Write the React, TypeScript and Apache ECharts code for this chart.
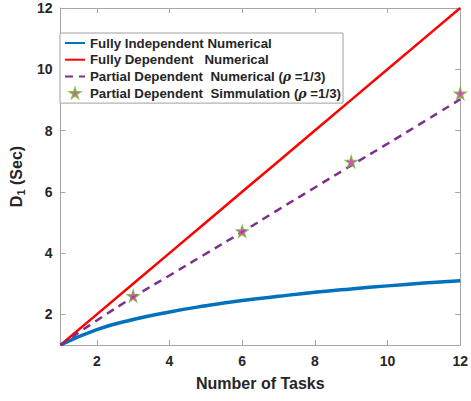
import React, { useEffect, useRef } from "react";
import * as echarts from "echarts";

const tasks = [1, 2, 3, 4, 5, 6, 7, 8, 9, 10, 11, 12];
const fullyIndependent = [1, 1.5, 1.83, 2.08, 2.28, 2.45, 2.59, 2.72, 2.83, 2.93, 3.02, 3.1];
const fullyDependent = [1, 2, 3, 4, 5, 6, 7, 8, 9, 10, 11, 12];
const partialNumerical = [1, 1.8, 2.56, 3.27, 3.98, 4.69, 5.42, 6.14, 6.86, 7.57, 8.29, 9.02];
const simTasks = [3, 6, 9, 12];
const partialSimulation = [2.6, 4.71, 6.98, 9.21];
const tickValues = [2, 4, 6, 8, 10, 12];

const seriesNames = [
  "Fully Independent Numerical",
  "Fully Dependent   Numerical",
  "Partial Dependent  Numerical (ρ =1/3)",
  "Partial Dependent  Simmulation (ρ =1/3)",
];

const star =
  "path://M50,0 L61,35 L98,35 L68,57 L79,91 L50,70 L21,91 L32,57 L2,35 L39,35 Z";

const AXIS_COLOR = "#a6a6a6";
const TEXT_COLOR = "#262626";
const FONT = "'Liberation Sans', Arial, Helvetica, sans-serif";

export default function App() {
  const ref = useRef<HTMLDivElement>(null);
  useEffect(() => {
    if (!ref.current) return;
    const chart = echarts.init(ref.current, undefined, { renderer: "svg" });
    const pair = (xs: number[], ys: number[]) => xs.map((x, i) => [x, ys[i]]);
    const baseAxis = {
      type: "value" as const,
      min: 1,
      max: 12,
      splitLine: { show: false },
      axisLine: { show: true, lineStyle: { color: AXIS_COLOR, width: 1 } },
      axisTick: {
        show: true,
        inside: true,
        length: 5,
        customValues: tickValues,
        lineStyle: { color: AXIS_COLOR },
      },
    };
    const hiddenSymbol = { opacity: 0 };
    chart.setOption({
      animation: false,
      backgroundColor: "#ffffff",
      textStyle: { fontFamily: FONT },
      grid: { left: 57, right: 9, top: 8, bottom: 56, containLabel: false },
      legend: {
        orient: "vertical",
        left: 60,
        top: 33,
        itemWidth: 20,
        itemHeight: 9,
        itemGap: 2.7,
        padding: [3, 2, 3, 4],
        backgroundColor: "#ffffff",
        borderColor: "#a0a0a0",
        borderWidth: 1,
        borderRadius: 0,
        data: [
          { name: seriesNames[0], itemStyle: hiddenSymbol },
          { name: seriesNames[1], itemStyle: hiddenSymbol },
          { name: seriesNames[2], itemStyle: hiddenSymbol },
          { name: seriesNames[3], icon: star },
        ],
        formatter: (name: string) => name.replace("ρ", "{i|ρ}"),
        textStyle: {
          fontFamily: FONT,
          fontSize: 13.3,
          fontWeight: "bold",
          color: TEXT_COLOR,
          lineHeight: 14,
          rich: {
            i: { fontFamily: "'DejaVu Serif', serif", fontStyle: "italic", fontSize: 12.5, color: TEXT_COLOR, lineHeight: 14 },
          },
        },
      },
      xAxis: [
        {
          ...baseAxis,
          position: "bottom",
          name: "Number of Tasks",
          nameLocation: "middle",
          nameGap: 30,
          nameTextStyle: { fontFamily: FONT, fontSize: 16, fontWeight: "bold", color: TEXT_COLOR },
          axisLabel: {
            customValues: tickValues,
            fontFamily: FONT,
            fontSize: 14,
            fontWeight: "bold",
            color: TEXT_COLOR,
            margin: 9,
          },
        },
        { ...baseAxis, position: "top", axisLabel: { show: false } },
      ],
      yAxis: [
        {
          ...baseAxis,
          position: "left",
          name: "{a|D}{b|1}{a| (Sec)}",
          nameLocation: "middle",
          nameRotate: 90,
          nameGap: 30,
          nameTextStyle: {
            color: TEXT_COLOR,
            rich: {
              a: { fontFamily: FONT, fontSize: 16, fontWeight: "bold", color: TEXT_COLOR },
              b: { fontFamily: FONT, fontSize: 11, fontWeight: "bold", color: TEXT_COLOR, padding: [9, 0, 0, 0] },
            },
          },
          axisLabel: {
            customValues: tickValues,
            fontFamily: FONT,
            fontSize: 14,
            fontWeight: "bold",
            color: TEXT_COLOR,
            margin: 8,
          },
        },
        { ...baseAxis, position: "right", axisLabel: { show: false } },
      ],
      series: [
        {
          name: seriesNames[0],
          type: "line",
          data: pair(tasks, fullyIndependent),
          smooth: true,
          showSymbol: false,
          symbol: "none",
          lineStyle: { color: "#0072BD", width: 3.5 },
          itemStyle: { color: "#0072BD" },
          z: 2,
        },
        {
          name: seriesNames[1],
          type: "line",
          data: pair(tasks, fullyDependent),
          showSymbol: false,
          symbol: "none",
          lineStyle: { color: "#FF0000", width: 2.5 },
          itemStyle: { color: "#FF0000" },
          z: 3,
        },
        {
          name: seriesNames[2],
          type: "line",
          data: pair(tasks, partialNumerical),
          smooth: true,
          showSymbol: false,
          symbol: "none",
          lineStyle: { color: "#7E2F8E", width: 2.5, type: [8, 6] },
          itemStyle: { color: "#7E2F8E" },
          z: 4,
        },
        {
          name: seriesNames[3],
          type: "scatter",
          data: pair(simTasks, partialSimulation),
          symbol: star,
          symbolSize: 11,
          itemStyle: { color: "#FF00FF", borderColor: "#77AC30", borderWidth: 1.5 },
          z: 5,
        },
      ],
    });
    return () => chart.dispose();
  }, []);
  return <div ref={ref} style={{ width: 471, height: 401, position: "absolute", left: 0, top: 0 }} />;
}
